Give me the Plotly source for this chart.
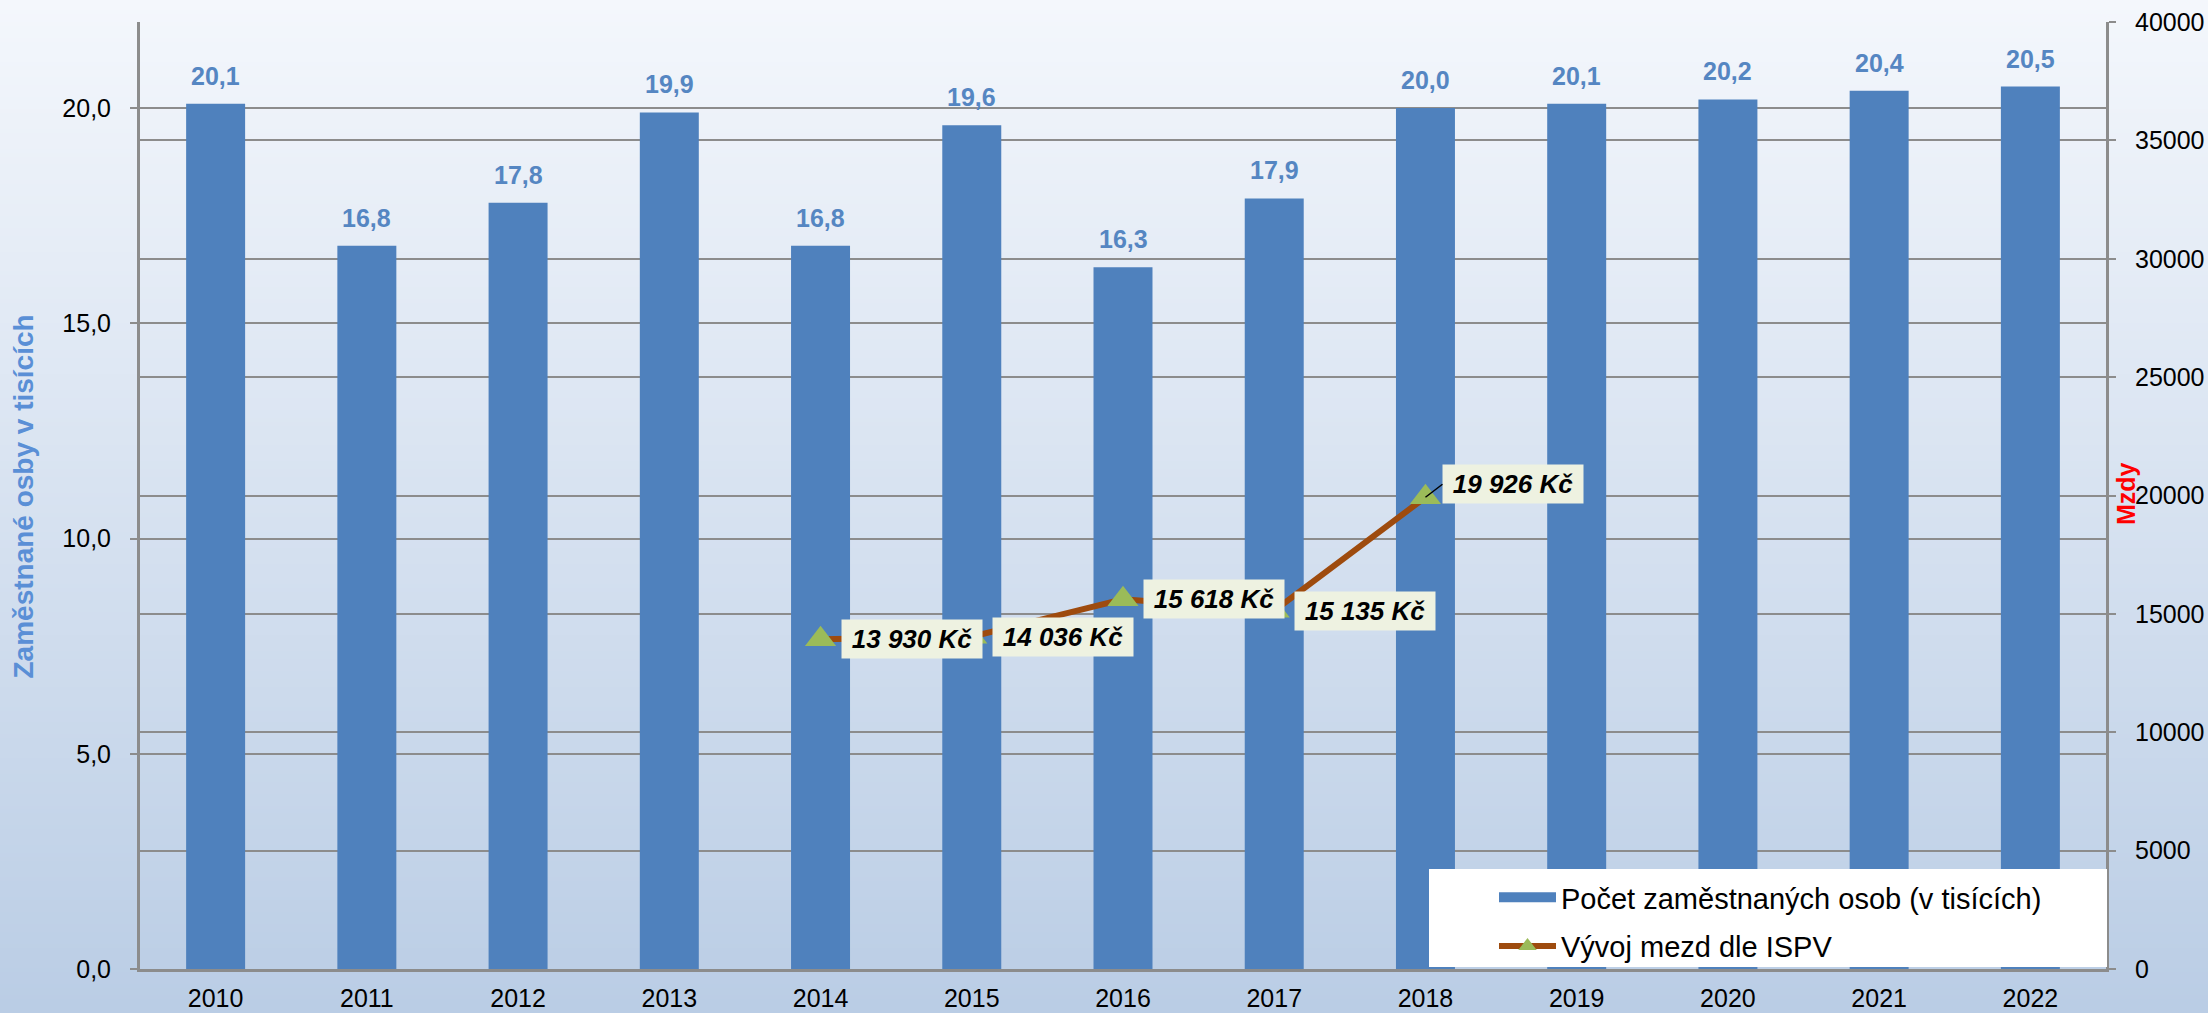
import zlib, struct, base64
import plotly.graph_objects as go

# ---------------- data ----------------
years = [2010, 2011, 2012, 2013, 2014, 2015, 2016, 2017, 2018, 2019, 2020, 2021, 2022]
employees = [20.1, 16.8, 17.8, 19.9, 16.8, 19.6, 16.3, 17.9, 20.0, 20.1, 20.2, 20.4, 20.5]
wage_years = [2014, 2015, 2016, 2017, 2018]
wages = [13930, 14036, 15618, 15135, 19926]
left_ticks = [0, 5, 10, 15, 20]
right_ticks = [0, 5000, 10000, 15000, 20000, 25000, 30000, 35000, 40000]

BAR_NAME = "Počet zaměstnaných osob (v tisících)"
LINE_NAME = "Vývoj mezd dle ISPV"

# ---------------- styling ----------------
W, H = 2208, 1013
ML, MR, MT, MB = 140, 102, 22, 44
PW, PH = W - ML - MR, H - MT - MB
FONT = "Liberation Sans, Arial, sans-serif"
BAR_C = "#4F81BD"
LINE_C = "#9E4B0E"
MARK_C = "#9BBB59"
GRID_C = "#8C8C8C"


def gradient_png(top, bottom, h=256):
    rows = b""
    for i in range(h):
        t = i / (h - 1)
        c = [round(top[k] + (bottom[k] - top[k]) * t) for k in range(3)]
        rows += b"\x00" + bytes(c)

    def chunk(tag, data):
        return (struct.pack(">I", len(data)) + tag + data +
                struct.pack(">I", zlib.crc32(tag + data) & 0xffffffff))

    png = (b"\x89PNG\r\n\x1a\n" +
           chunk(b"IHDR", struct.pack(">IIBBBBB", 1, h, 8, 2, 0, 0, 0)) +
           chunk(b"IDAT", zlib.compress(rows)) + chunk(b"IEND", b""))
    return "data:image/png;base64," + base64.b64encode(png).decode()


bg = gradient_png((0xF4, 0xF7, 0xFC), (0xBA, 0xCD, 0xE5))

fig = go.Figure()

fig.add_trace(go.Bar(
    x=years, y=employees, width=0.39, marker=dict(color=BAR_C, line=dict(width=0)),
    name=BAR_NAME, showlegend=False, hoverinfo="skip"))

# legend proxy for bars (wide rectangle)
fig.add_trace(go.Scatter(
    x=[None], y=[None], mode="lines", line=dict(color=BAR_C, width=18),
    name=BAR_NAME, legendgroup="a"))

fig.add_trace(go.Scatter(
    x=wage_years, y=wages, yaxis="y2", mode="lines+markers",
    line=dict(color=LINE_C, width=6),
    marker=dict(symbol="triangle-up", size=27, color=MARK_C, line=dict(width=0)),
    name=LINE_NAME, legendgroup="b", cliponaxis=False))

annotations = []
for yr, v in zip(years, employees):
    annotations.append(dict(
        x=yr, y=v, xref="x", yref="y", yanchor="bottom", yshift=12,
        text="<b>" + f"{v:.1f}".replace(".", ",") + "</b>", showarrow=False,
        font=dict(family=FONT, size=25, color="#5586C2")))

for i, (yr, v) in enumerate(zip(wage_years, wages)):
    txt = "<b><i>" + f"{v:,}".replace(",", " ") + " Kč</i></b>"
    base = dict(x=yr, y=v, xref="x", yref="y2", text=txt,
                font=dict(family=FONT, size=26, color="#000000"),
                bgcolor="#EEF2E1", borderpad=3, width=134, height=32,
                align="center", valign="middle")
    if i == len(wages) - 1:
        base.update(showarrow=True, arrowhead=0, arrowwidth=1.5, arrowcolor="#000000",
                    ax=17, ay=-13, xanchor="left", yanchor="middle", standoff=0)
    else:
        base.update(showarrow=False, xanchor="left", yanchor="middle", xshift=20)
    annotations.append(base)

annotations.append(dict(
    x=(22.5 - ML) / PW, y=(H - MB - 497) / PH, xref="paper", yref="paper",
    xanchor="center", yanchor="middle",
    text="<b>Zaměstnané osby v tisících</b>", textangle=-90, showarrow=False,
    font=dict(family=FONT, size=28, color="#5A8FD6")))
annotations.append(dict(
    x=(2126 - ML) / PW, y=(H - MB - 494) / PH, xref="paper", yref="paper",
    xanchor="center", yanchor="middle",
    text="<b>Mzdy</b>", textangle=-90, showarrow=False,
    font=dict(family=FONT, size=25, color="#FF0000")))

fig.update_layout(
    width=W, height=H, autosize=False,
    margin=dict(l=ML, r=MR, t=MT, b=MB, pad=0, autoexpand=False),
    paper_bgcolor="#D6E1EF", plot_bgcolor="rgba(0,0,0,0)",
    font=dict(family=FONT, size=25, color="#000000"),
    images=[dict(source=bg, xref="paper", yref="paper",
                 x=-ML / PW, y=1 + MT / PH, sizex=W / PW, sizey=H / PH,
                 xanchor="left", yanchor="top", sizing="stretch", layer="below")],
    xaxis=dict(range=[2009.5, 2022.5], tickvals=years, ticktext=[str(y) for y in years],
               automargin=False,
               showline=True, linecolor=GRID_C, linewidth=3,
               showgrid=False, zeroline=False, ticks="", ticklabelstandoff=5,
               tickfont=dict(family=FONT, size=25, color="#000000")),
    yaxis=dict(range=[0, 22], tickvals=left_ticks,
               ticktext=[f"{t:.1f}".replace(".", ",") for t in left_ticks],
               automargin=False,
               showline=True, linecolor=GRID_C, linewidth=3,
               ticks="outside", ticklen=7, tickcolor=GRID_C, tickwidth=2,
               showgrid=True, gridcolor=GRID_C, gridwidth=2, zeroline=False,
               ticklabelstandoff=14,
               tickfont=dict(family=FONT, size=25, color="#000000")),
    yaxis2=dict(range=[0, 40000], overlaying="y", side="right",
                tickvals=right_ticks, ticktext=[str(t) for t in right_ticks],
                automargin=False,
                showline=True, linecolor=GRID_C, linewidth=3,
                ticks="outside", ticklen=7, tickcolor=GRID_C, tickwidth=2,
                showgrid=True, gridcolor=GRID_C, gridwidth=2, zeroline=False,
                ticklabelstandoff=14,
                tickfont=dict(family=FONT, size=25, color="#000000")),
    shapes=[dict(type="rect", xref="paper", yref="paper",
                 x0=(1429 - ML) / PW, x1=(2107 - ML) / PW, y0=0.002, y1=(H - MB - 869) / PH,
                 fillcolor="#FFFFFF", line=dict(width=0), layer="above")],
    legend=dict(x=(1494 - ML) / PW, y=(H - MB - 872) / PH, xanchor="left", yanchor="top",
                bgcolor="rgba(0,0,0,0)", borderwidth=0, itemwidth=57,
                traceorder="grouped", tracegroupgap=8,
                font=dict(family=FONT, size=29, color="#000000")),
    annotations=annotations,
    hovermode=False,
)

fig.write_html(
    "out.html",
    config={"displayModeBar": False},
    post_script=("document.documentElement.style.margin='0';"
                 "document.documentElement.style.overflow='hidden';"
                 "document.body.style.margin='0';"
                 "document.body.style.overflow='hidden';"))
